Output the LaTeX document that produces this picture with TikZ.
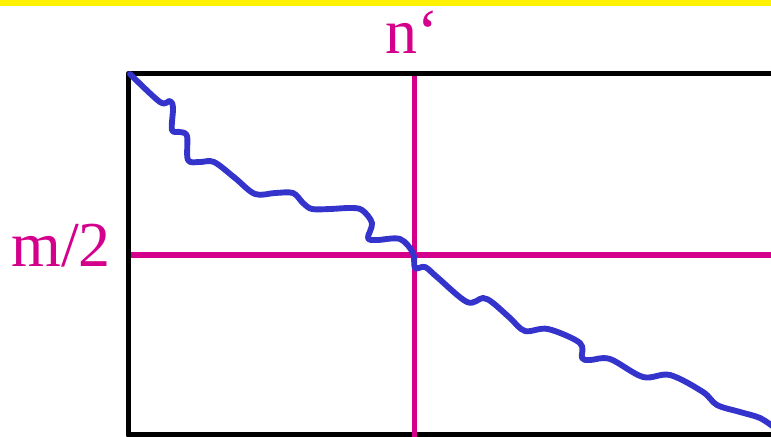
\documentclass[tikz,border=0pt]{standalone}
\usepackage{fontspec}
\setmainfont{Liberation Serif}
\usepackage{tikz}
\definecolor{splitmag}{RGB}{212,0,140}
\definecolor{pathblue}{RGB}{52,52,204}

\begin{document}
\begin{tikzpicture}[x=0.75pt, y=-0.75pt, line join=round,
		frame/.style={line width=4.4pt, black},
		splitline/.style={line width=4.2pt, splitmag},
		lbl/.style={text=splitmag, font=\fontsize{48}{50}\selectfont, inner sep=0pt, anchor=base}]
		\useasboundingbox (0,0) rectangle (771,436);
		\clip (0,0) rectangle (771,436);

		% Top bar
		\fill[yellow] (0,0) rectangle (771,5.5);

		% Matrix frame
		\draw[frame] (128.5,73.5) rectangle (800,435);

		% Split lines
		\draw[splitline] (414.5,76) -- (414.5,440);
		\draw[splitline] (131,255) -- (775,255);

		% Labels
		\node[lbl] (ncol) at (412,53) {n‘};
		\node[lbl] (mhalf) at (61,266) {m/2};

		% Wavy path
		\draw[line width=4.4pt, pathblue, line cap=round] plot[smooth, tension=0.55] coordinates {
			(130,74) (160,102) (170,101) (173,108) (172,130) (180,132) (187,136)
			(188,160) (200,162) (214,162) (235,178) (255,194) (275,193) (293,193)
			(303,203) (312,209) (330,209) (350,208) (362,210) (372,223) (368,238)
			(377,240) (400,239) (413,253) (415,268) (425,267) (437,277) (467,302)
			(483,298) (493,303) (510,318) (525,331) (548,329) (580,343) (582,358)
			(590,360) (610,359) (643,377) (670,375) (703,392) (717,405) (740,412)
			(760,418) (775,428)};
	\end{tikzpicture}
\end{document}
